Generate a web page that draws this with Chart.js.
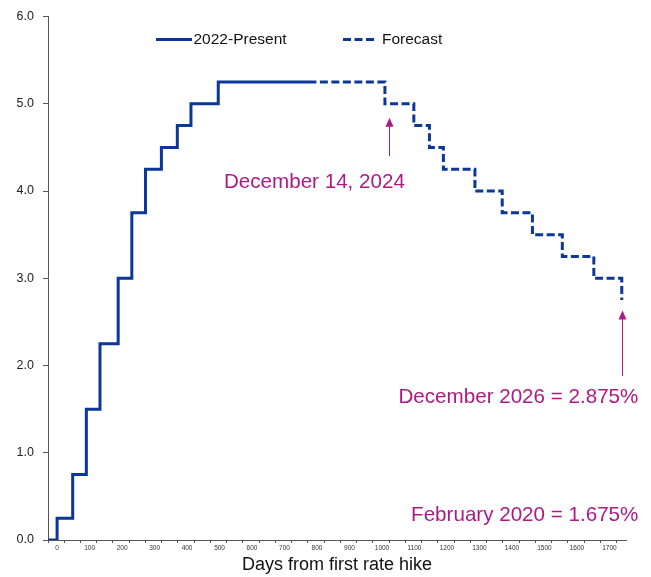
<!DOCTYPE html>
<html>
<head>
<meta charset="utf-8">
<script src="https://cdn.jsdelivr.net/npm/chart.js@4.4.1/dist/chart.umd.min.js"></script>
<style>
  html, body { margin: 0; padding: 0; background: #fff; }
  #wrap { width: 651px; height: 577px; }
</style>
</head>
<body>
<div id="wrap"><canvas id="c" width="651" height="577"></canvas></div>
<script>
/* Fed funds path vs days since the first hike (Mar 2022), plus the forecast steps. */
const solidDays = [-28, 0, 48, 90, 132, 188, 230, 272, 321, 370, 412, 496, 798];
const solidRates = [0, 0.25, 0.75, 1.5, 2.25, 3.0, 3.75, 4.25, 4.5, 4.75, 5.0, 5.25, 5.25];
const forecastDays = [798, 1009, 1098, 1146, 1189, 1286, 1370, 1463, 1555, 1652, 1738];
const forecastRates = [5.25, 5.0, 4.75, 4.5, 4.25, 4.0, 3.75, 3.5, 3.25, 3.0, 2.75];
const xLabelTicks = [0, 100, 200, 300, 400, 500, 600, 700, 800, 900, 1000, 1100, 1200, 1300, 1400, 1500, 1600, 1700];
const yTicks = [0, 1, 2, 3, 4, 5, 6];
const seriesNames = ["2022-Present", "Forecast"];
const xTitle = "Days from first rate hike";

// call-outs, anchored in data units (day, rate)
const notes = [
  { text: "December 14, 2024", day: 792, rate: 4.10, align: "center" },
  { text: "December 2026 = 2.875%", day: 1789, rate: 1.64, align: "right" },
  { text: "February 2020 = 1.675%", day: 1789, rate: 0.28, align: "right" },
];
const arrows = [
  { day: 1021, from: 4.40, to: 4.84 },
  { day: 1740, from: 1.88, to: 2.63 },
];

const FONT = "'Liberation Sans', Arial, sans-serif";
const BLUE = "#0b3797";
const MAGENTA = "#ad1a85";
const AXIS = "#555";

// x tick marks sit every 50 days from the axis start, labels every 100 from 0
const X_MIN = -28, X_MAX = 1751;
const markTicks = [];
for (let v = X_MIN; v <= X_MAX; v += 50) markTicks.push(v);
const isLabel = v => xLabelTicks.includes(v);

const pts = (xs, ys) => xs.map((x, i) => ({ x, y: ys[i] }));

const legendPlugin = {
  id: "inlineLegend",
  afterDraw(chart) {
    const ctx = chart.ctx, y = 39.5;
    ctx.save();
    ctx.strokeStyle = BLUE; ctx.lineWidth = 3; ctx.lineCap = "butt";
    ctx.beginPath(); ctx.moveTo(156, y); ctx.lineTo(192, y); ctx.stroke();
    ctx.setLineDash([8, 3.5]);
    ctx.beginPath(); ctx.moveTo(343, y); ctx.lineTo(377, y); ctx.stroke();
    ctx.setLineDash([]);
    ctx.fillStyle = "#111"; ctx.font = "15.5px " + FONT; ctx.textBaseline = "middle";
    ctx.fillText(seriesNames[0], 193.5, y);
    ctx.fillText(seriesNames[1], 382, y);
    ctx.restore();
  },
};

const notesPlugin = {
  id: "notes",
  afterDraw(chart) {
    const ctx = chart.ctx, xs = chart.scales.x, ys = chart.scales.y;
    ctx.save();
    ctx.fillStyle = MAGENTA; ctx.strokeStyle = MAGENTA;
    ctx.font = "20.6px " + FONT; ctx.textBaseline = "middle";
    notes.forEach(n => {
      ctx.textAlign = n.align;
      ctx.fillText(n.text, xs.getPixelForValue(n.day), ys.getPixelForValue(n.rate));
    });
    ctx.lineWidth = 1;
    arrows.forEach(a => {
      const x = Math.round(xs.getPixelForValue(a.day)) + 0.5;
      const y0 = ys.getPixelForValue(a.from), y1 = ys.getPixelForValue(a.to);
      ctx.beginPath(); ctx.moveTo(x, y0); ctx.lineTo(x, y1 + 8); ctx.stroke();
      ctx.beginPath(); ctx.moveTo(x, y1); ctx.lineTo(x - 4, y1 + 9); ctx.lineTo(x + 4, y1 + 9);
      ctx.closePath(); ctx.fill();
    });
    ctx.restore();
  },
};

new Chart(document.getElementById("c"), {
  type: "line",
  data: {
    datasets: [
      { label: seriesNames[0], data: pts(solidDays, solidRates), stepped: true,
        borderColor: BLUE, borderWidth: 3, pointRadius: 0, borderJoinStyle: "miter" },
      { label: seriesNames[1], data: pts(forecastDays, forecastRates), stepped: true,
        borderColor: BLUE, borderWidth: 3, pointRadius: 0, borderJoinStyle: "miter",
        borderDash: [8, 3.5], borderDashOffset: 8 },
    ],
  },
  options: {
    responsive: false, animation: false,
    layout: { padding: { top: 12.5, right: 25, left: 0, bottom: 0 } },
    plugins: { legend: { display: false }, tooltip: { enabled: false } },
    scales: {
      x: {
        type: "linear", min: X_MIN, max: X_MAX,
        afterBuildTicks: s => { s.ticks = [...markTicks, ...xLabelTicks].sort((a, b) => a - b).map(v => ({ value: v })); },
        afterFit: s => { s.height = 37; },
        border: { display: true, color: AXIS, width: 1 },
        grid: { drawOnChartArea: false, drawTicks: true, tickLength: 3,
          tickColor: c => (c.tick && isLabel(c.tick.value) ? "rgba(0,0,0,0)" : AXIS) },
        ticks: { autoSkip: false, maxRotation: 0, padding: 1, color: "#333",
          font: { size: 6.5, family: FONT },
          callback: v => (isLabel(v) ? String(v) : "") },
        title: { display: true, text: xTitle, color: "#111",
          font: { size: 18, family: FONT }, padding: { top: 0, bottom: 1 } },
      },
      y: {
        min: 0, max: 6,
        afterBuildTicks: s => { s.ticks = yTicks.map(v => ({ value: v })); },
        afterFit: s => { s.width = 48; },
        border: { display: true, color: AXIS, width: 1 },
        grid: { drawOnChartArea: false, drawTicks: true, tickLength: 5, tickColor: AXIS },
        ticks: { padding: 9, color: "#222", font: { size: 12.5, family: FONT },
          callback: v => Number(v).toFixed(1) },
      },
    },
  },
  plugins: [legendPlugin, notesPlugin],
});
</script>
</body>
</html>
